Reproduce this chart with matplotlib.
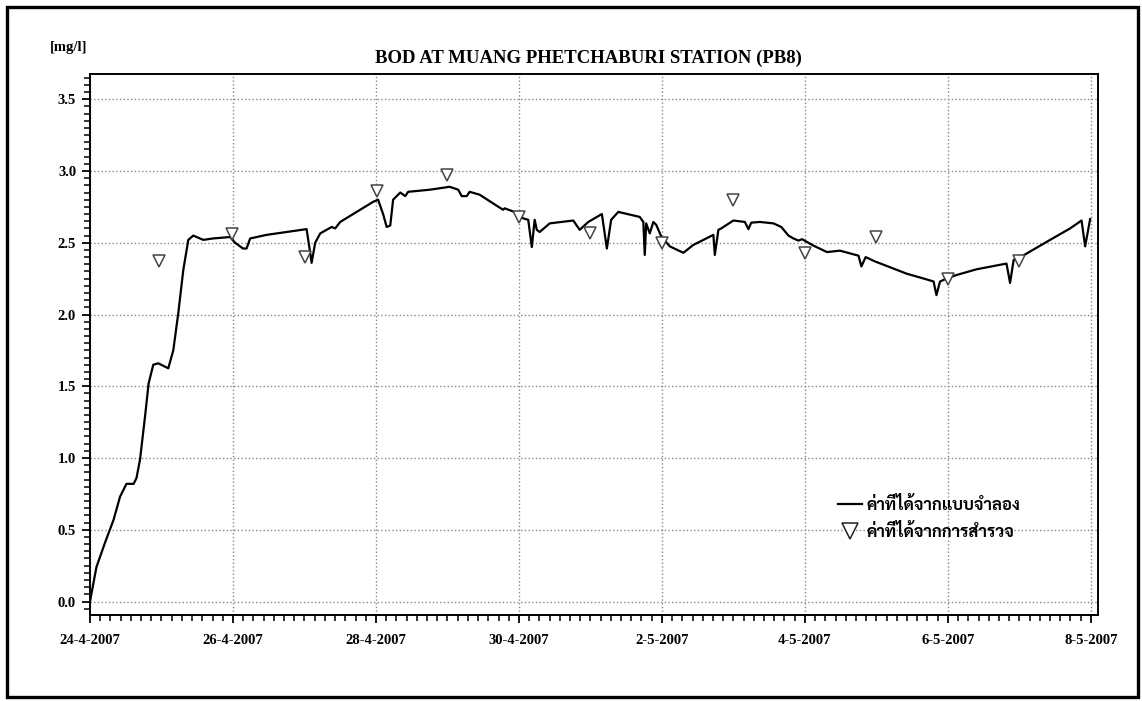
import pandas as pd
import matplotlib
matplotlib.use('Agg')
import matplotlib.pyplot as plt
import matplotlib.dates as mdates
from matplotlib.ticker import MultipleLocator, FuncFormatter, AutoMinorLocator
from matplotlib.patches import Rectangle
from matplotlib.lines import Line2D

start = pd.Timestamp('2007-04-24')

# simulated BOD (days after 24-4-2007, mg/l)
model_day = [0.00, 0.09, 0.21, 0.33, 0.42, 0.51, 0.61, 0.65, 0.70, 0.77, 0.82, 0.885, 0.955,
             1.095, 1.165, 1.235, 1.305, 1.375, 1.445, 1.585, 1.72, 1.96, 2.03, 2.14, 2.19,
             2.24, 2.47, 3.03, 3.08, 3.10, 3.15, 3.22, 3.38, 3.43, 3.50, 3.96, 4.03, 4.10,
             4.15, 4.20, 4.24, 4.34, 4.41, 4.45, 4.76, 5.03, 5.15, 5.20, 5.27, 5.31, 5.45,
             5.73, 5.78, 5.80, 5.99, 6.06, 6.13, 6.18, 6.22, 6.25, 6.29, 6.43, 6.76, 6.85,
             6.97, 7.16, 7.23, 7.29, 7.39, 7.69, 7.74, 7.76, 7.78, 7.83, 7.88, 7.92, 7.99,
             8.11, 8.30, 8.44, 8.72, 8.74, 8.79, 8.83, 9.00, 9.16, 9.21, 9.25, 9.37, 9.56,
             9.67, 9.77, 9.84, 9.91, 9.96, 10.12, 10.31, 10.49, 10.75, 10.79, 10.85, 10.98,
             11.24, 11.42, 11.70, 11.80, 11.84, 11.89, 11.98, 12.12, 12.40, 12.82, 12.87,
             12.92, 13.05, 13.43, 13.71, 13.87, 13.92, 13.99]
model_bod = [0.00, 0.24, 0.41, 0.57, 0.73, 0.82, 0.82, 0.86, 0.99, 1.29, 1.52, 1.65, 1.66,
             1.625, 1.75, 2.01, 2.31, 2.52, 2.55, 2.52, 2.53, 2.54, 2.50, 2.46, 2.46,
             2.53, 2.555, 2.595, 2.43, 2.36, 2.50, 2.565, 2.61, 2.60, 2.645, 2.785, 2.80, 2.70,
             2.61, 2.62, 2.80, 2.85, 2.825, 2.855, 2.87, 2.89, 2.87, 2.825, 2.825, 2.855, 2.835,
             2.745, 2.73, 2.74, 2.705, 2.67, 2.66, 2.47, 2.66, 2.59, 2.575, 2.635, 2.655, 2.59,
             2.645, 2.70, 2.46, 2.66, 2.715, 2.68, 2.645, 2.415, 2.635, 2.565, 2.645, 2.625, 2.545,
             2.475, 2.43, 2.485, 2.555, 2.415, 2.59, 2.60, 2.655, 2.645, 2.595, 2.64, 2.645, 2.635,
             2.61, 2.55, 2.53, 2.515, 2.525, 2.48, 2.435, 2.445, 2.41, 2.335, 2.40, 2.37,
             2.32, 2.285, 2.245, 2.23, 2.135, 2.23, 2.25, 2.275, 2.315, 2.355, 2.22,
             2.38, 2.41, 2.52, 2.60, 2.655, 2.475, 2.665]

# measured BOD
obs_day = [0.97, 1.99, 3.01, 4.01, 5.0, 6.0, 7.0, 8.0, 9.0, 10.0, 11.0, 12.0, 13.0]
obs_bod = [2.37, 2.56, 2.40, 2.86, 2.97, 2.68, 2.57, 2.50, 2.80, 2.43, 2.54, 2.25, 2.37]

x_ticks = ['2007-04-24', '2007-04-26', '2007-04-28', '2007-04-30',
           '2007-05-02', '2007-05-04', '2007-05-06', '2007-05-08']

label_model = 'ค่าที่ได้จากแบบจำลอง'
label_obs = 'ค่าที่ได้จากการสำรวจ'

plt.rcParams['font.family'] = ['Liberation Serif', 'DejaVu Serif']
plt.rcParams['font.weight'] = 'bold'

model_t = start + pd.to_timedelta(model_day, unit='D')
obs_t = start + pd.to_timedelta(obs_day, unit='D')

fig = plt.figure(figsize=(11.42, 7.01), dpi=100)
ax = fig.add_axes([90 / 1142, 1 - 615 / 701, 1008 / 1142, 541 / 701])

ax.plot(model_t, model_bod, color='black', lw=1.6, zorder=3)
ax.plot(obs_t, obs_bod, ls='none', marker='v', ms=8, mfc='white', mec='#444444', mew=1.1, zorder=4)

ax.set_xlim(start, start + pd.Timedelta(days=14.1))
ax.set_ylim(-0.094, 3.676)

ax.yaxis.set_major_locator(MultipleLocator(0.5))
ax.yaxis.set_minor_locator(MultipleLocator(0.05))
ax.yaxis.set_major_formatter(FuncFormatter(lambda v, p: f'{v:.1f}'))

ax.set_xticks(pd.to_datetime(x_ticks))
ax.xaxis.set_minor_locator(AutoMinorLocator(14))
ax.xaxis.set_major_formatter(FuncFormatter(
    lambda v, p: '{d.day}-{d.month}-{d.year}'.format(d=mdates.num2date(v))))

ax.tick_params(which='major', length=6, width=1.3, labelsize=10.5)
ax.tick_params(which='minor', length=4, width=1.1)
ax.tick_params(axis='x', pad=8)
ax.tick_params(axis='y', pad=4)
for lab in ax.get_xticklabels() + ax.get_yticklabels():
    lab.set_fontweight('bold')

ax.grid(True, which='major', ls=':', color='#888888', lw=1.0)
for s in ax.spines.values():
    s.set_linewidth(1.4)

fig.text(588 / 1142, 1 - 58 / 701, 'BOD AT MUANG PHETCHABURI STATION (PB8)',
         ha='center', va='center', fontsize=13.5, fontweight='bold')
fig.text(69 / 1142, 1 - 48 / 701, '[mg/l]', ha='center', va='center', fontsize=10.5, fontweight='bold')

handles = [Line2D([], [], color='black', lw=1.6),
           Line2D([], [], ls='none', marker='v', ms=12, mfc='white', mec='#222222', mew=1.1)]
leg = ax.legend(handles, [label_model, label_obs], loc='upper left', bbox_to_anchor=(0.727, 0.246),
                frameon=False, handlelength=1.45, handletextpad=0.3, labelspacing=0.62,
                prop={'family': ['Sarabun', 'Noto Sans Thai Looped', 'DejaVu Sans'],
                      'size': 12, 'weight': 'bold'})

# outer frame of the picture
fig.patches.append(Rectangle((7 / 1142, 4 / 701), 1131 / 1142, 690 / 701, transform=fig.transFigure,
                             fill=False, lw=2.4, ec='black'))

fig.savefig('out.png', dpi=100)
